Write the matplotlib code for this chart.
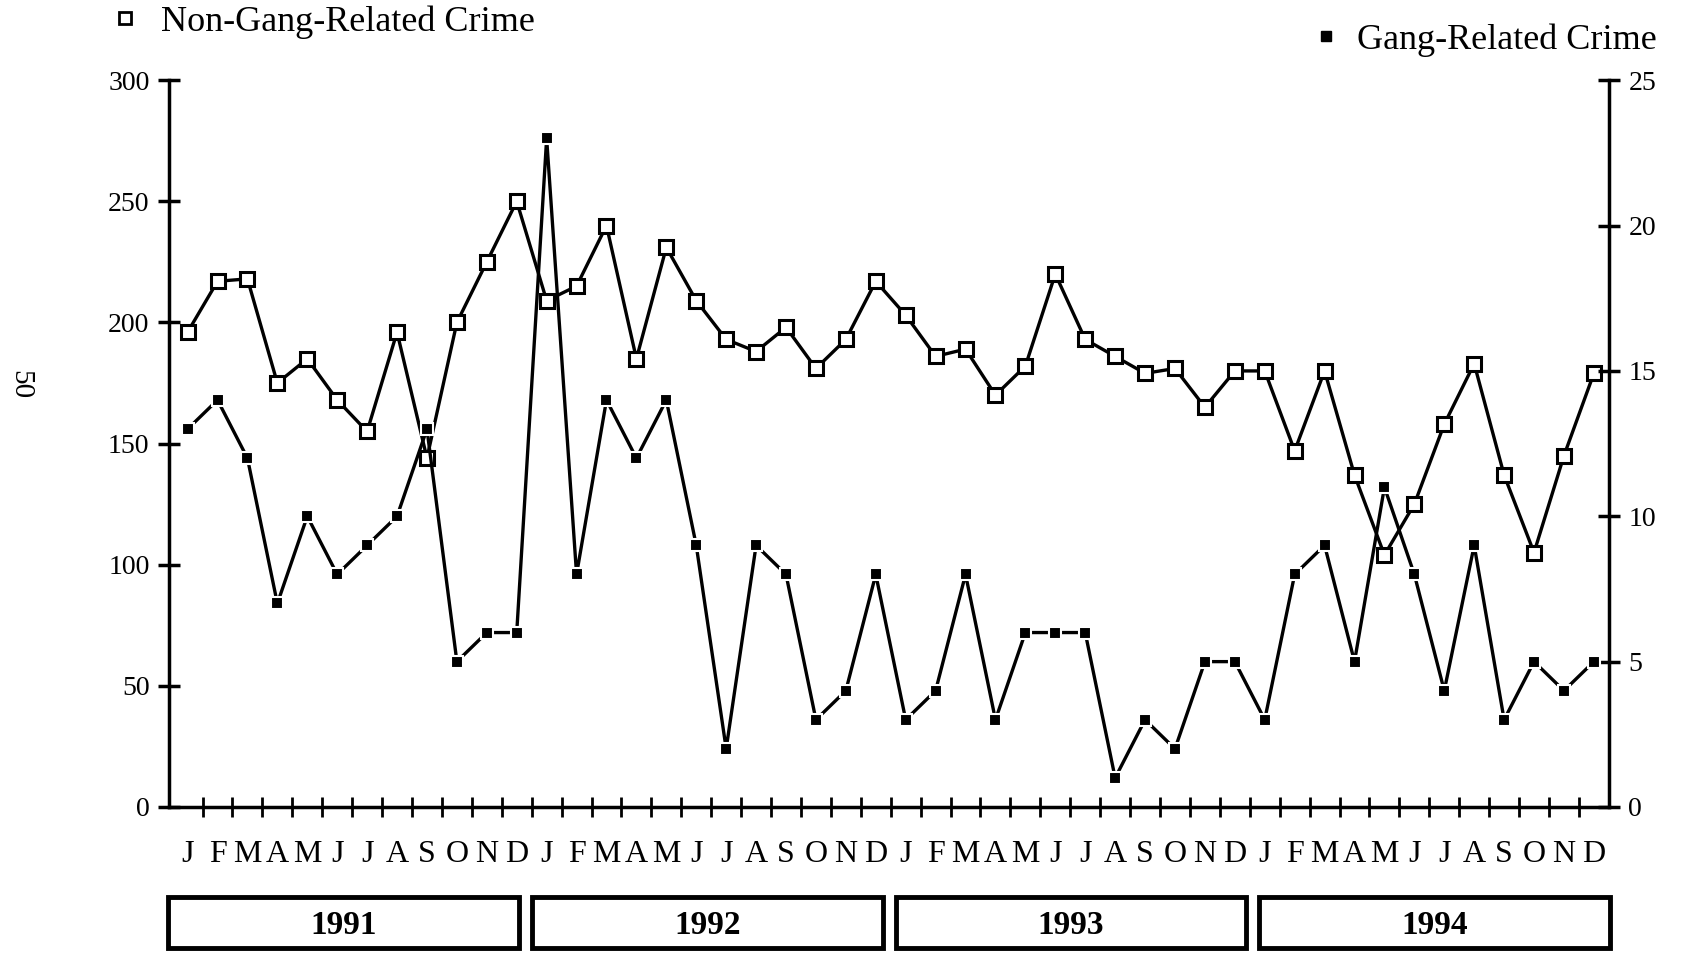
import numpy as np
import matplotlib
matplotlib.use("Agg")
import matplotlib.pyplot as plt
from matplotlib.lines import Line2D
from matplotlib.patches import Rectangle
from matplotlib.transforms import blended_transform_factory

plt.rcParams['font.family'] = ['Liberation Serif', 'DejaVu Serif']

# monthly counts, Jan 1991 - Dec 1994
months = list("JFMAMJJASOND") * 4
years = ["1991", "1992", "1993", "1994"]

non_gang = [196, 217, 218, 175, 185, 168, 155, 196, 144, 200, 225, 250,
            209, 215, 240, 185, 231, 209, 193, 188, 198, 181, 193, 217,
            203, 186, 189, 170, 182, 220, 193, 186, 179, 181, 165, 180,
            180, 147, 180, 137, 104, 125, 158, 183, 137, 105, 145, 179]

gang = [13, 14, 12, 7, 10, 8, 9, 10, 13, 5, 6, 6,
        23, 8, 14, 12, 14, 9, 2, 9, 8, 3, 4, 8,
        3, 4, 8, 3, 6, 6, 6, 1, 3, 2, 5, 5,
        3, 8, 9, 5, 11, 8, 4, 9, 3, 5, 4, 5]

left_ticks = [0, 50, 100, 150, 200, 250, 300]
right_ticks = [0, 5, 10, 15, 20, 25]

x = np.arange(len(non_gang))

fig = plt.figure(figsize=(16.82, 9.55), dpi=100)
ax = fig.add_axes([0.1005, 0.155, 0.856, 0.761])
ax2 = ax.twinx()

ax.plot(x, non_gang, color="black", lw=2.4, marker="s", ms=9.5,
        mfc="white", mec="black", mew=2.2, zorder=3)
ax2.plot(x, gang, color="black", lw=2.4, marker="s", ms=8.5,
         mfc="black", mec="white", mew=1.5, zorder=3)

ax.set_xlim(-0.62, 47.5)
ax.set_ylim(0, 300)
ax2.set_ylim(0, 25)

# spines
for s in ["top", "right"]:
    ax.spines[s].set_visible(False)
for s in ["top", "left", "bottom"]:
    ax2.spines[s].set_visible(False)
ax.spines["left"].set_linewidth(2.5)
ax.spines["bottom"].set_linewidth(2.5)
ax2.spines["right"].set_linewidth(2.5)

# y ticks
ax.set_yticks(left_ticks)
ax2.set_yticks(right_ticks)
ax.tick_params(axis="y", direction="inout", length=16, width=2.5,
               labelsize=20, pad=6)
ax2.tick_params(axis="y", direction="inout", length=16, width=2.5,
                labelsize=20, pad=6)

# month letters under the bins, tick marks at month boundaries
ax.set_xticks(x, labels=months)
ax.set_xticks(np.arange(0.5, 47, 1), minor=True)
ax.tick_params(axis="x", which="major", length=0, pad=24, labelsize=23)
ax.tick_params(axis="x", which="minor", direction="inout", length=14, width=2)

# year boxes
trans = blended_transform_factory(ax.transData, fig.transFigure)
for k, yr in enumerate(years):
    x0 = 12.15 * k - 0.64
    rect = Rectangle((x0, 0.007), 11.72, 0.054, transform=trans,
                     fill=False, lw=3.5, ec="black", clip_on=False)
    fig.add_artist(rect)
    fig.text(x0 + 5.86, 0.031, yr, transform=trans, ha="center",
             va="center", fontsize=24, fontweight="bold")

# legends
h1 = Line2D([], [], ls="none", marker="s", ms=8.5, mfc="white",
            mec="black", mew=2)
h2 = Line2D([], [], ls="none", marker="s", ms=6.5, mfc="black", mec="black")
fig.legend(handles=[h1], labels=["Non-Gang-Related Crime"], loc="center left",
           bbox_to_anchor=(0.0636, 0.977), frameon=False, fontsize=26,
           handlelength=1.0, handletextpad=0.5, borderpad=0, borderaxespad=0)
fig.legend(handles=[h2], labels=["Gang-Related Crime"], loc="center left",
           bbox_to_anchor=(0.7777, 0.958), frameon=False, fontsize=26,
           handlelength=1.0, handletextpad=0.36, borderpad=0, borderaxespad=0)

# page number
fig.text(0.012, 0.597, "50", rotation=-90, ha="center", va="center",
         fontsize=21)

fig.savefig("out.png", dpi=100)
